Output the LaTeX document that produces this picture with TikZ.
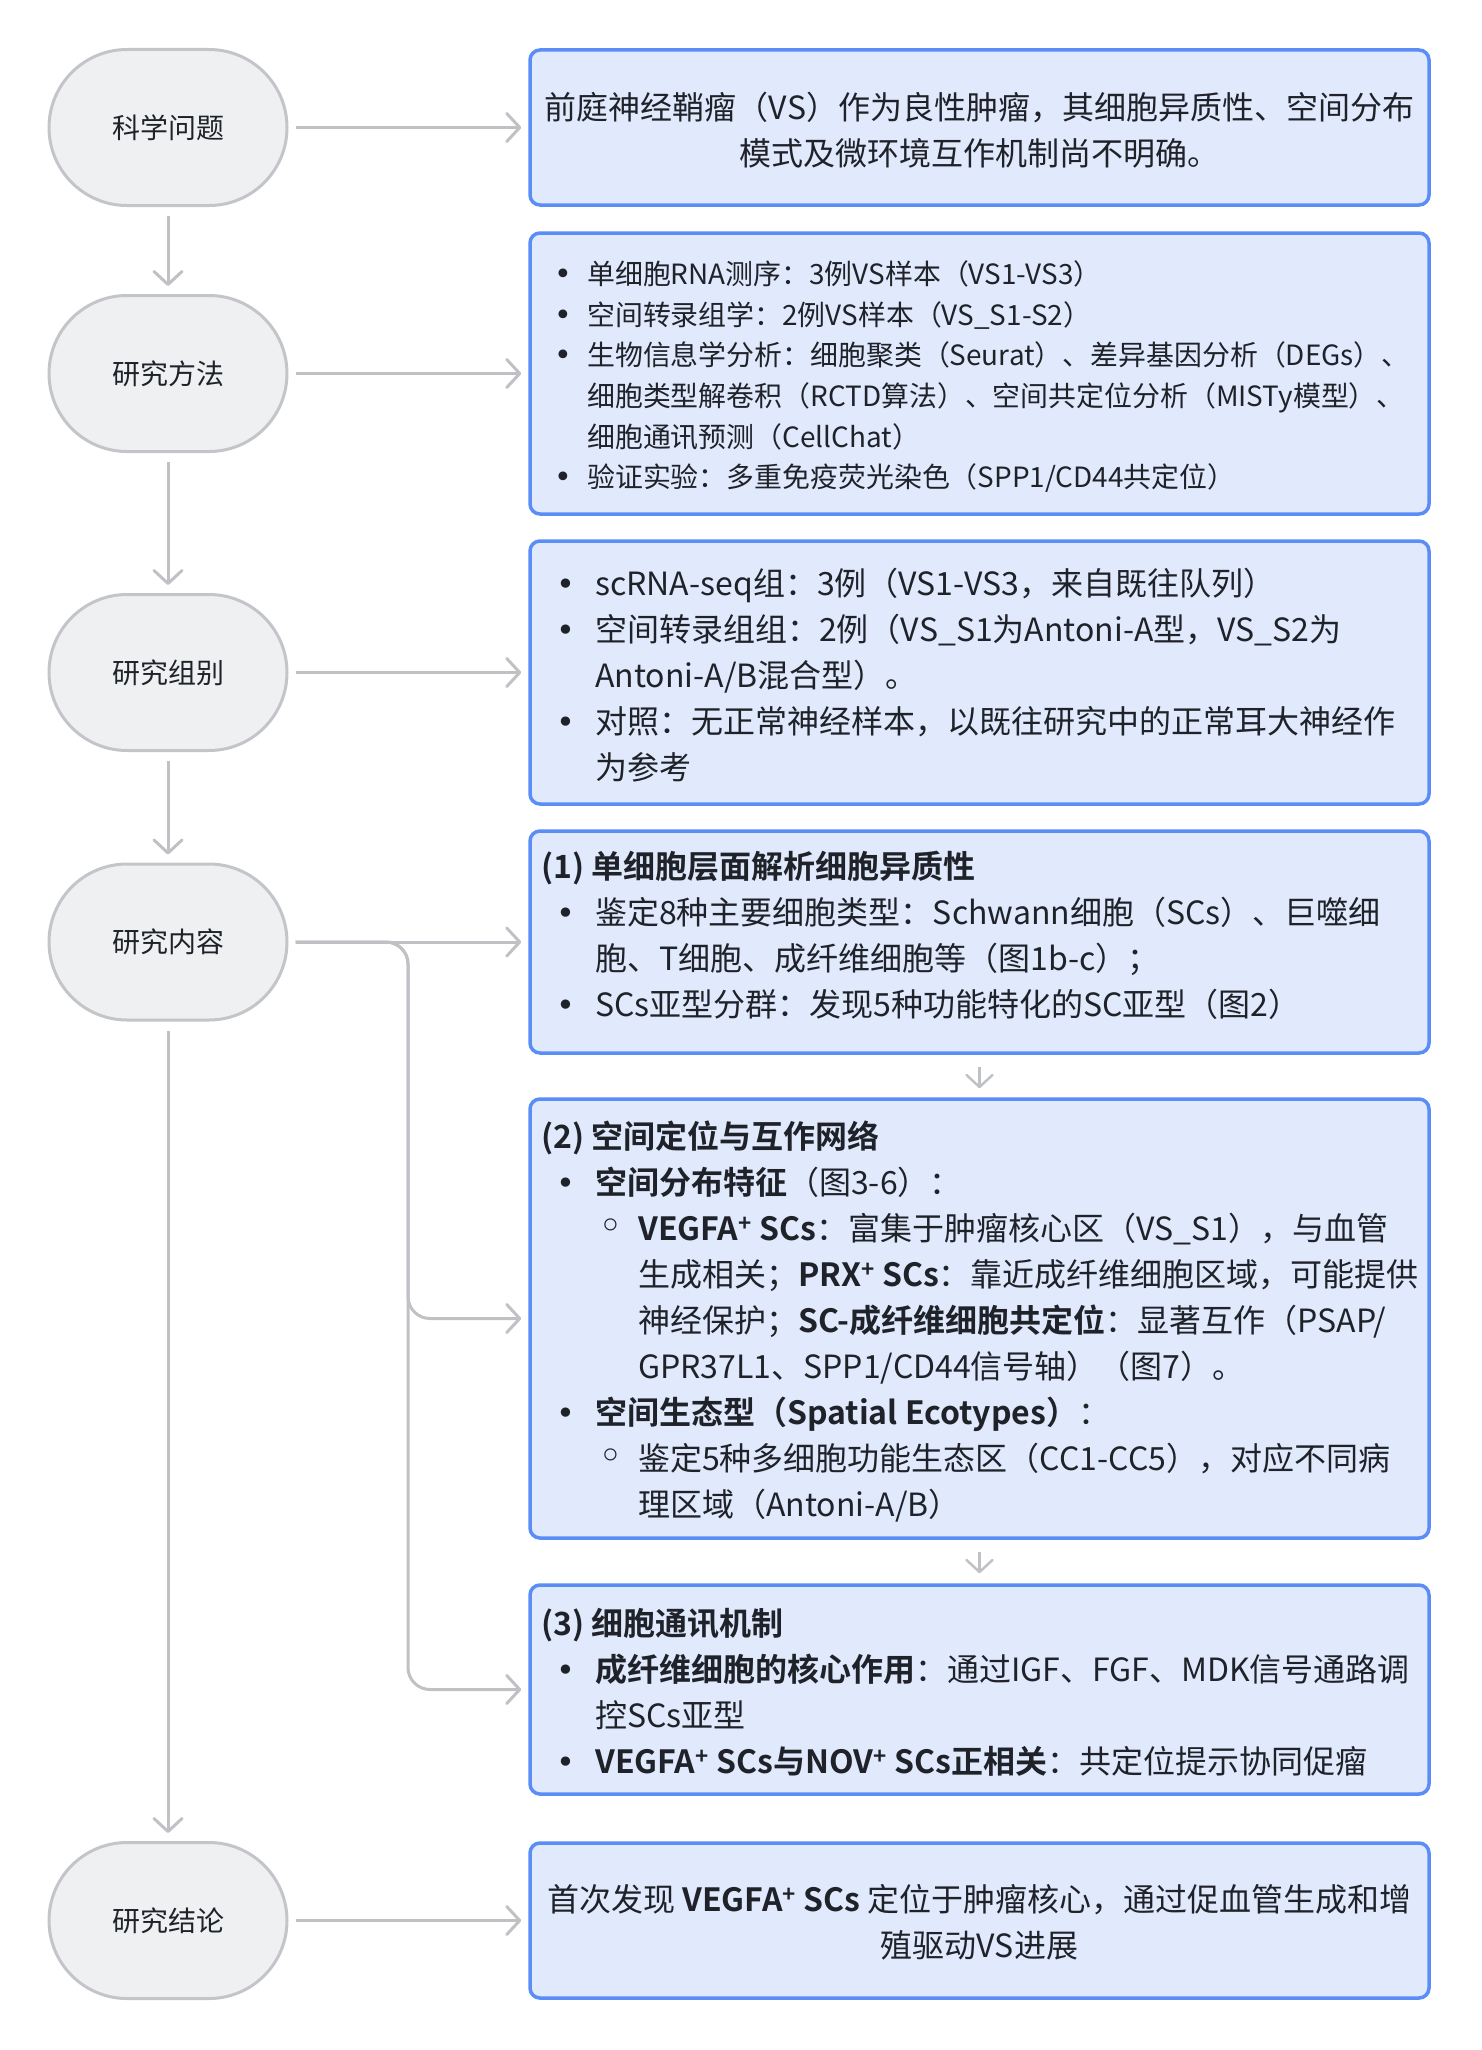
\documentclass[tikz,border=0pt]{standalone}
\usepackage{fontspec}
\setmainfont{Noto Sans CJK SC}[BoldFont={Noto Sans CJK SC Bold}]
\newfontfamily\dejavu{DejaVu Sans}
\usetikzlibrary{arrows.meta,shapes.misc}
\definecolor{boxfill}{HTML}{E1E9FD}
\definecolor{boxline}{HTML}{5A8DF6}
\definecolor{ovfill}{HTML}{EFF0F2}
\definecolor{ovline}{HTML}{C3C5C9}
\definecolor{arrgray}{HTML}{BFC1C5}
\definecolor{txt}{HTML}{1F2329}
\newcommand{\myplus}{\textsuperscript{+}}
\newcommand{\bula}{\hspace*{10pt}\makebox[24pt][c]{\dejavu\fontsize{30}{30}\selectfont •}\hspace*{12pt}}
\newcommand{\bulb}{\hspace*{13pt}\makebox[24pt][c]{\dejavu •}\hspace*{17pt}}
\newcommand{\contb}{\hspace*{54pt}}
\newcommand{\bulc}{\hspace*{58pt}\makebox[24pt][c]{\dejavu\fontsize{42}{42}\selectfont ◦}\hspace*{15pt}}
\newcommand{\contc}{\hspace*{97pt}}
\begin{document}
\begin{tikzpicture}[x=1pt,y=-1pt,
  oval/.style={rounded rectangle, draw=ovline, fill=ovfill, line width=3pt, minimum width=238pt, minimum height=156pt, inner sep=0pt, font=\fontsize{28}{32}\selectfont, text=txt},
  box/.style={draw=boxline, fill=boxfill, line width=3.5pt, rounded corners=10pt, minimum width=899pt, inner sep=0pt},
  txtL/.style={anchor=north west, align=left, inner sep=0pt, text=txt, font=\fontsize{32}{46}\selectfont},
  txtS/.style={anchor=north west, align=left, inner sep=0pt, text=txt, font=\fontsize{27.9}{40.6}\selectfont},
  txtC/.style={anchor=north, align=center, inner sep=0pt, text=txt, font=\fontsize{32}{46}\selectfont},
  arr/.style={draw=arrgray, line width=3pt, -{Straight Barb[length=13pt,width=28pt,round]}},
  arrsm/.style={draw=arrgray, line width=2.5pt, -{Straight Barb[length=12pt,width=26pt,round]}}
]
\useasboundingbox (0,0) rectangle (1482,2050);
% left ovals
\node[oval] (c1) at (168,127.5) {科学问题};
\node[oval] (c2) at (168,373.5) {研究方法};
\node[oval] (c3) at (168,672.5) {研究组别};
\node[oval] (c4) at (168,942) {研究内容};
\node[oval] (c5) at (168,1920.5) {研究结论};
% right boxes
\node[box, minimum height=155pt] (b1) at (979.5,127.5) {};
\node[box, minimum height=281pt] (b2) at (979.5,373.5) {};
\node[box, minimum height=263pt] (b3) at (979.5,672.5) {};
\node[box, minimum height=222pt] (b4) at (979.5,942) {};
\node[box, minimum height=439pt] (b5) at (979.5,1318.5) {};
\node[box, minimum height=209pt] (b6) at (979.5,1689.5) {};
\node[box, minimum height=155pt] (b7) at (979.5,1920.5) {};
% texts
\node[txtC] (t1) at (979.5,89) {\rule{0pt}{30pt}前庭神经鞘瘤（VS）作为良性肿瘤，其细胞异质性、空间分布\\模式及微环境互作机制尚不明确。};
\node[txtS] (t2) at (541,258.5) {\bula\rule{0pt}{26pt}单细胞RNA测序：3例VS样本（VS1-VS3）\\
\bula 空间转录组学：2例VS样本（VS\_S1-S2）\\
\bula 生物信息学分析：细胞聚类（Seurat）、差异基因分析（DEGs）、\\
\hspace*{46pt}细胞类型解卷积（RCTD算法）、空间共定位分析（MISTy模型）、\\
\hspace*{46pt}细胞通讯预测（CellChat）\\
\bula 验证实验：多重免疫荧光染色（SPP1/CD44共定位）};
\node[txtL] (t3) at (541,565) {\bulb\rule{0pt}{30pt}scRNA-seq组：3例（VS1-VS3，来自既往队列）\\
\bulb 空间转录组组：2例（VS\_S1为Antoni-A型，VS\_S2为\\
\contb Antoni-A/B混合型）。\\
\bulb 对照：无正常神经样本，以既往研究中的正常耳大神经作\\
\contb 为参考};
\node[txtL] (t4) at (541,848) {\rule{0pt}{30pt}\textbf{(1) 单细胞层面解析细胞异质性}\\
\bulb 鉴定8种主要细胞类型：Schwann细胞（SCs）、巨噬细\\
\contb 胞、T细胞、成纤维细胞等（图1b-c）；\\
\bulb SCs亚型分群：发现5种功能特化的SC亚型（图2）};
\node[txtL] (t5) at (541,1118) {\rule{0pt}{30pt}\textbf{(2) 空间定位与互作网络}\\
\bulb\textbf{空间分布特征}（图3-6）：\\
\bulc\textbf{VEGFA\myplus{} SCs}：富集于肿瘤核心区（VS\_S1），与血管\\
\contc 生成相关；\textbf{PRX\myplus{} SCs}：靠近成纤维细胞区域，可能提供\\
\contc 神经保护；\textbf{SC-成纤维细胞共定位}：显著互作（PSAP/\\
\contc GPR37L1、SPP1/CD44信号轴）（图7）。\\
\bulb\textbf{空间生态型（Spatial Ecotypes）}：\\
\bulc 鉴定5种多细胞功能生态区（CC1-CC5），对应不同病\\
\contc 理区域（Antoni-A/B）};
\node[txtL] (t6) at (541,1605) {\rule{0pt}{30pt}\textbf{(3) 细胞通讯机制}\\
\bulb\textbf{成纤维细胞的核心作用}：通过IGF、FGF、MDK信号通路调\\
\contb 控SCs亚型\\
\bulb\textbf{VEGFA\myplus{} SCs与NOV\myplus{} SCs正相关}：共定位提示协同促瘤};
\node[txtC] (t7) at (979.5,1881) {\rule{0pt}{30pt}首次发现 \textbf{VEGFA\myplus{} SCs} 定位于肿瘤核心，通过促血管生成和增\\殖驱动VS进展};
% arrows
\draw[arr, shorten <=7pt, shorten >=7pt] (c1.east) -- (c1.east -| b1.west);
\draw[arr, shorten <=7pt, shorten >=7pt] (c2.east) -- (c2.east -| b2.west);
\draw[arr, shorten <=7pt, shorten >=7pt] (c3.east) -- (c3.east -| b3.west);
\draw[arr, shorten <=7pt, shorten >=7pt] (c4.east) -- (c4.east -| b4.west);
\draw[arr, shorten <=7pt, shorten >=7pt] (c5.east) -- (c5.east -| b7.west);
\coordinate (jx) at (408,942);
\draw[arr, rounded corners=22pt, shorten <=7pt, shorten >=7pt] (c4.east) -- (jx) -- (jx |- b5.west) -- (b5.west);
\draw[arr, rounded corners=22pt, shorten <=7pt, shorten >=7pt] (c4.east) -- (jx) -- (jx |- b6.west) -- (b6.west);
\draw[arr, shorten <=9pt, shorten >=8pt] (c1.south) -- (c2.north);
\draw[arr, shorten <=9pt, shorten >=8pt] (c2.south) -- (c3.north);
\draw[arr, shorten <=9pt, shorten >=8pt] (c3.south) -- (c4.north);
\draw[arr, shorten <=9pt, shorten >=8pt] (c4.south) -- (c5.north);
\draw[arrsm, shorten <=12pt, shorten >=9pt] (b4.south) -- (b5.north);
\draw[arrsm, shorten <=12pt, shorten >=10pt] (b5.south) -- (b6.north);
\end{tikzpicture}
\end{document}
